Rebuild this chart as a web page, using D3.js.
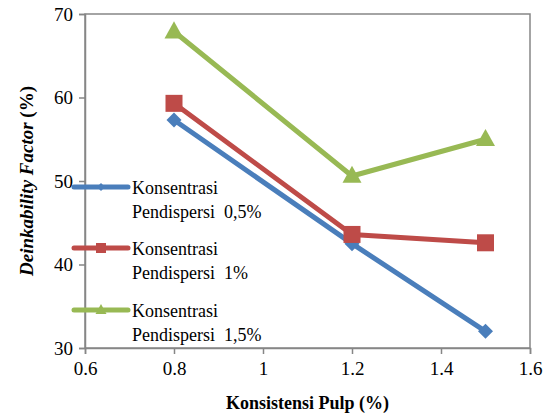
<!DOCTYPE html>
<html><head><meta charset="utf-8">
<script src="https://cdn.jsdelivr.net/npm/d3@7"></script>
</head><body style="margin:0;background:#fff">
<svg id="chart" width="551" height="419" style="display:block;font-family:'Liberation Serif',serif !important">
<text id="xtitle" x="307" y="409" text-anchor="middle" font-size="18" font-weight="bold" style="font-family:'Liberation Serif',serif !important">Konsistensi Pulp (%)</text>
<text id="ytitle" transform="translate(33,181) rotate(-90)" text-anchor="middle" font-size="19" font-weight="bold" style="font-family:'Liberation Serif',serif !important"><tspan font-style="italic">Deinkability Factor</tspan> (%)</text>
</svg>
<script>
const xValues = [0.8, 1.2, 1.5];
const seriesNames = ["Konsentrasi|Pendispersi  0,5%", "Konsentrasi|Pendispersi  1%", "Konsentrasi|Pendispersi  1,5%"];
const blueValues = [57.3, 42.5, 32.0];
const redValues = [59.3, 43.6, 42.6];
const greenValues = [67.9, 50.6, 55.0];
const xTicks = [0.6, 0.8, 1, 1.2, 1.4, 1.6];
const yTicks = [30, 40, 50, 60, 70];

const W = 551, H = 419;
const m = {l: 85, r: 21, t: 14, b: 71};
const FONT = "'Liberation Serif', serif";
const svg = d3.select("#chart");
const x = d3.scaleLinear().domain([0.6, 1.6]).range([m.l, W - m.r]);
const y = d3.scaleLinear().domain([30, 70]).range([H - m.b, m.t]);
const axisCol = "#868686";

svg.select("#xtitle").attr("x", (m.l + x(1.6)) / 2);
svg.select("#ytitle").attr("transform", `translate(33,${(m.t + y(30)) / 2}) rotate(-90)`);

svg.insert("rect", ":first-child").attr("x", m.l).attr("y", m.t).attr("width", x(1.6) - m.l).attr("height", y(30) - m.t)
  .attr("fill", "none").attr("stroke", axisCol).attr("stroke-width", 1.5);

const xa = svg.append("g").attr("transform", `translate(0,${y(30)})`)
  .call(d3.axisBottom(x).tickValues(xTicks).tickSize(6).tickPadding(8).tickFormat(d => String(d)));
const ya = svg.append("g").attr("transform", `translate(${m.l},0)`)
  .call(d3.axisLeft(y).tickValues(yTicks).tickSize(6).tickPadding(6));
[xa, ya].forEach(a => {
  a.attr("font-family", null).style("font-family", FONT, "important").attr("font-size", 19);
  a.select(".domain").attr("stroke", axisCol).attr("stroke-width", 1.5);
  a.selectAll(".tick line").attr("stroke", axisCol).attr("stroke-width", 1.5);
  a.selectAll("text").style("font-family", FONT, "important").attr("font-size", 19).attr("fill", "#000");
});

const series = [
  {vals: blueValues, color: "#4A7EBB", shape: "diamond", size: 15, lsize: 8},
  {vals: redValues, color: "#BE4B48", shape: "square", size: 17, lsize: 10},
  {vals: greenValues, color: "#98B954", shape: "triangle", size: 19, lsize: 11}
];
function marker(g, shape, s, cx, cy, color) {
  if (shape === "diamond") {
    const h = s / 2;
    g.append("path").attr("d", `M${cx},${cy - h}L${cx + h},${cy}L${cx},${cy + h}L${cx - h},${cy}Z`).attr("fill", color);
  } else if (shape === "square") {
    g.append("rect").attr("x", cx - s / 2).attr("y", cy - s / 2).attr("width", s).attr("height", s).attr("fill", color);
  } else {
    const h = s * 0.9;
    g.append("path").attr("d", `M${cx},${cy - h * 0.6}L${cx + s / 2},${cy + h * 0.4}L${cx - s / 2},${cy + h * 0.4}Z`).attr("fill", color);
  }
}
const line = d3.line().x((d, i) => x(xValues[i])).y(d => y(d));
series.forEach(s => {
  svg.append("path").datum(s.vals).attr("d", line).attr("fill", "none")
    .attr("stroke", s.color).attr("stroke-width", 5).attr("stroke-linejoin", "round");
  const g = svg.append("g");
  s.vals.forEach((v, i) => marker(g, s.shape, s.size, x(xValues[i]), y(v), s.color));
});

const legY = [187, 248, 310];
series.forEach((s, i) => {
  const g = svg.append("g");
  g.append("line").attr("x1", 74).attr("x2", 128).attr("y1", legY[i]).attr("y2", legY[i])
    .attr("stroke", s.color).attr("stroke-width", 5).attr("stroke-linecap", "round");
  marker(g, s.shape, s.lsize, 101, legY[i], s.color);
  const parts = seriesNames[i].split("|");
  const t = g.append("text").style("font-family", FONT, "important").attr("font-size", 18).attr("fill", "#000")
    .style("white-space", "pre");
  t.append("tspan").attr("x", 132).attr("y", legY[i] + 7).text(parts[0]);
  t.append("tspan").attr("x", 132).attr("y", legY[i] + 31).text(parts[1]);
});
</script>
</body></html>
